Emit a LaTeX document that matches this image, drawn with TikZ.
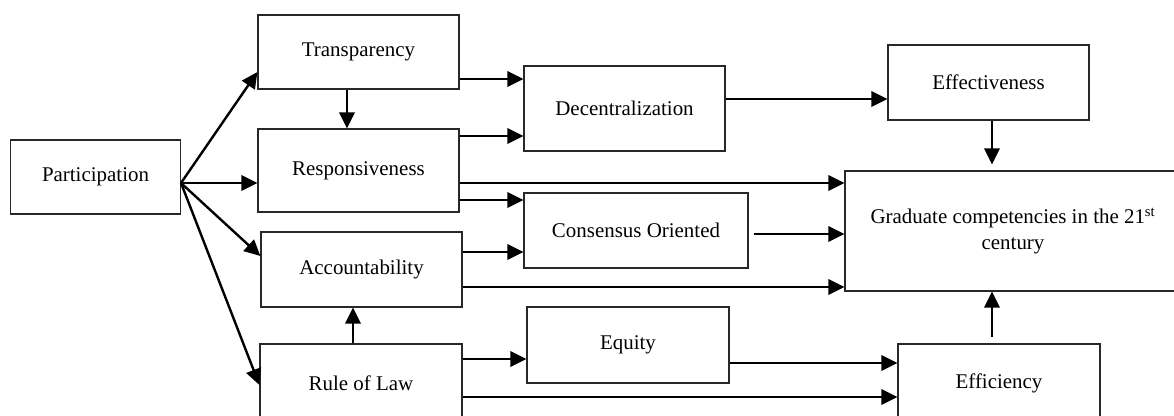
\documentclass[tikz,border=0pt]{standalone}
\usepackage{fontspec}
\setmainfont{Liberation Serif}
\usetikzlibrary{arrows.meta}

\tikzset{every picture/.style={line width=0.75pt}}
\tikzset{
  govbox/.style={draw={rgb, 255:red, 40; green, 40; blue, 40}, line width=0.9pt, inner sep=0pt,
    font=\fontsize{15.7}{19}\selectfont, align=center},
  flowarr/.style={line width=1.8pt, -{Triangle[length=12pt,width=11.5pt]}}
}

\begin{document}
\begin{tikzpicture}[x=0.75pt,y=0.75pt,yscale=-1,xscale=1]
	\useasboundingbox (0,0) rectangle (1174,415);
	\clip (0,0) rectangle (1174,415);

	%Shape: Rectangle [id:part]
	\node[govbox, minimum width=127pt, minimum height=55.5pt] (part) at (95.5,177) {Participation};
	%Shape: Rectangle [id:transp]
	\node[govbox, minimum width=150.75pt, minimum height=55.5pt] (transp) at (358.5,52) {Transparency};
	%Shape: Rectangle [id:resp]
	\node[govbox, minimum width=150.75pt, minimum height=62.25pt] (resp) at (358.5,170.5) {Responsiveness};
	%Shape: Rectangle [id:acc]
	\node[govbox, minimum width=150.75pt, minimum height=56.25pt] (acc) at (361.5,269.5) {Accountability};
	%Shape: Rectangle [id:rol]
	\node[govbox, minimum width=151.5pt, minimum height=58.5pt] (rol) at (361,383) {Rule of Law};
	%Shape: Rectangle [id:decen]
	\node[govbox, minimum width=150.75pt, minimum height=63.75pt] (decen) at (624.5,108.5) {Decentralization};
	%Shape: Rectangle [id:cons]
	\node[govbox, minimum width=168pt, minimum height=56.25pt] (cons) at (636,230.5) {Consensus Oriented};
	%Shape: Rectangle [id:equity]
	\node[govbox, minimum width=151.5pt, minimum height=57pt] (equity) at (628,345) {Equity};
	%Shape: Rectangle [id:effect]
	\node[govbox, minimum width=150.75pt, minimum height=56.25pt] (effect) at (988.5,82.5) {Effectiveness};
	%Shape: Rectangle [id:grad]
	\node[govbox, minimum width=252pt, minimum height=90pt] (grad) at (1013,231) {Graduate competencies in the 21\textsuperscript{st}\\century};
	%Shape: Rectangle [id:effic]
	\node[govbox, minimum width=151.5pt, minimum height=58.5pt] (effic) at (999,383) {Efficiency};

	%Straight Lines from Participation
	\coordinate (pj) at (181,183);
	\draw[flowarr] (pj) -- (transp.west |- 0,72);
	\draw[flowarr] (pj) -- (resp.west |- pj);
	\draw[flowarr] (pj) -- (acc.west |- 0,256);
	\draw[flowarr] (pj) -- (rol.west |- 0,385);

	%Straight Lines
	\draw[flowarr] (347,0 |- transp.south) -- (347,0 |- resp.north);
	\draw[flowarr] (transp.east |- 0,79) -- (decen.west |- 0,79);
	\draw[flowarr] (resp.east |- 0,136) -- (decen.west |- 0,136);
	\draw[flowarr] (resp.east |- 0,183) -- (grad.west |- 0,183);
	\draw[flowarr] (resp.east |- 0,200) -- (cons.west |- 0,200);
	\draw[flowarr] (decen.east |- 0,99) -- (effect.west |- 0,99);
	\draw[flowarr, shorten >=4.5pt] (992,0 |- effect.south) -- (992,0 |- grad.north);
	\draw[flowarr] (acc.east |- 0,252) -- (cons.west |- 0,252);
	\draw[flowarr] (acc.east |- 0,287) -- (grad.west |- 0,287);
	\draw[flowarr, shorten <=3.75pt] (cons.east |- 0,234) -- (grad.west |- 0,234);
	\draw[flowarr] (353,0 |- rol.north) -- (353,0 |- acc.south);
	\draw[flowarr] (rol.east |- 0,359) -- (equity.west |- 0,359);
	\draw[flowarr] (rol.east |- 0,397) -- (effic.west |- 0,397);
	\draw[flowarr] (equity.east |- 0,363) -- (effic.west |- 0,363);
	\draw[flowarr, shorten <=5pt] (992,0 |- effic.north) -- (992,0 |- grad.south);

\end{tikzpicture}
\end{document}
